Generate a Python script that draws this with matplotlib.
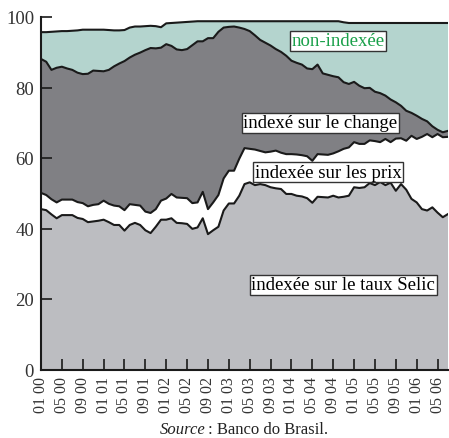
import numpy as np
import matplotlib
matplotlib.use("Agg")
import matplotlib.pyplot as plt

plt.rcParams['font.family'] = ['Liberation Serif', 'DejaVu Serif']

# Months from Jan 2000 to Jul 2006
months = list(range(79))
tick_pos = list(range(0, 77, 4))
tick_labels = ["01 00", "05 00", "09 00", "01 01", "05 01", "09 01", "01 02", "05 02",
               "09 02", "01 03", "05 03", "09 03", "01 04", "05 04", "09 04", "01 05",
               "05 05", "09 05", "01 06", "05 06"]

# Shares of public debt (%)
selic = [45.5, 45.2, 44.0, 42.9, 43.8, 43.8, 43.8, 43.0, 42.7, 41.8,
         42.0, 42.2, 42.5, 41.8, 41.0, 41.0, 39.4, 41.0, 41.6, 41.0,
         39.5, 38.7, 40.5, 42.5, 42.5, 42.9, 41.6, 41.5, 41.3, 39.9,
         40.3, 42.9, 38.4, 39.5, 40.5, 45.1, 47.1, 47.1, 49.3, 52.6,
         53.1, 52.3, 52.6, 52.3, 51.7, 51.4, 51.2, 49.8, 49.8, 49.3,
         49.1, 48.6, 47.3, 49.0, 48.9, 48.8, 49.3, 48.8, 49.0, 49.3,
         51.7, 51.5, 51.7, 52.9, 52.3, 53.2, 52.3, 53.0, 50.7, 52.6,
         51.0, 48.4, 47.4, 45.5, 45.1, 46.0, 44.5, 43.2, 44.1]
prix = [4.6, 4.3, 4.3, 4.5, 4.4, 4.4, 4.4, 4.5, 4.5, 4.5,
        4.7, 4.7, 5.4, 5.2, 5.5, 5.3, 5.8, 5.9, 5.1, 5.5,
        5.3, 5.7, 5.0, 5.4, 6.0, 6.9, 7.2, 7.2, 7.3, 7.3,
        7.1, 7.5, 7.1, 7.9, 9.0, 9.1, 9.3, 9.3, 10.5, 10.2,
        9.5, 10.1, 9.4, 9.3, 10.1, 10.7, 10.3, 11.3, 11.3, 11.7,
        11.7, 11.9, 11.9, 12.1, 12.1, 12.1, 12.0, 13.1, 13.6, 13.7,
        12.8, 12.5, 12.3, 12.1, 12.5, 11.3, 13.1, 11.5, 14.8, 13.0,
        13.9, 17.9, 18.0, 20.5, 21.7, 19.9, 22.3, 22.7, 21.9]
change = [38.0, 37.8, 36.7, 38.2, 37.7, 37.2, 36.8, 36.7, 36.6, 37.6,
          38.1, 37.8, 36.7, 38.0, 39.5, 40.5, 42.3, 41.6, 42.6, 43.4,
          45.8, 46.8, 45.6, 43.4, 43.8, 42.0, 42.0, 41.9, 42.3, 44.8,
          45.7, 42.7, 48.5, 46.6, 46.3, 42.8, 40.8, 40.9, 37.2, 33.8,
          33.4, 32.4, 31.5, 31.1, 30.1, 28.8, 28.6, 27.9, 26.5, 26.0,
          25.7, 24.9, 26.0, 25.4, 23.0, 22.7, 21.9, 21.0, 18.9, 18.0,
          17.1, 16.5, 15.8, 14.9, 14.0, 13.9, 12.3, 12.1, 10.3, 9.2,
          8.5, 6.5, 6.6, 5.1, 3.6, 3.1, 1.2, 1.4, 1.7]
non_indexee = [7.6, 8.4, 10.8, 10.3, 10.1, 10.6, 11.1, 12.0, 12.6, 12.5,
               11.6, 11.7, 11.8, 11.3, 10.2, 9.4, 8.8, 8.5, 8.0, 7.4,
               6.8, 6.3, 6.3, 5.8, 5.9, 6.5, 7.6, 7.9, 7.7, 6.7,
               5.7, 5.7, 4.8, 4.8, 3.0, 1.8, 1.6, 1.5, 1.8, 2.2,
               2.8, 4.0, 5.3, 6.1, 6.9, 7.9, 8.7, 9.8, 11.2, 11.8,
               12.3, 13.4, 13.6, 12.3, 14.8, 15.2, 15.6, 15.9, 17.0, 17.3,
               16.7, 17.8, 18.5, 18.4, 19.5, 19.9, 20.6, 21.7, 22.5, 23.5,
               24.9, 25.5, 26.3, 27.2, 27.9, 29.3, 30.3, 31.0, 30.6]

series = [selic, prix, change, non_indexee]
colors = ["#bcbdc1", "#ffffff", "#808084", "#b4d4ce"]
labels = ["indexée sur le taux Selic", "indexée sur les prix",
          "indexé sur le change", "non-indexée"]
label_xy = [(57.9, 24.0), (55.0, 55.9), (53.5, 70.0), (57.0, 93.2)]
label_colors = ["black", "black", "black", "#1aa04a"]

fig = plt.figure(figsize=(4.49, 4.39), dpi=100)
ax = fig.add_axes([41 / 449, 68.5 / 439, 407 / 449, 352.5 / 439])

x = np.array(months)
base = np.zeros(len(x))
for vals, col in zip(series, colors):
    top = base + np.array(vals)
    ax.fill_between(x, base, top, facecolor=col, edgecolor="none", zorder=1)
    base = top
base = np.zeros(len(x))
for vals in series:
    base = base + np.array(vals)
    ax.plot(x, base, color="#1a1a1a", lw=1.5, zorder=2)

for lab, (lx, ly), lc in zip(labels, label_xy, label_colors):
    ax.text(lx, ly, lab, ha="center", va="center", fontsize=13.5, color=lc, zorder=5,
            bbox=dict(boxstyle="square,pad=0.08", facecolor="white",
                      edgecolor="#333333", linewidth=1.0))

ax.set_xlim(0, 78)
ax.set_ylim(0, 100)
ax.set_xticks(tick_pos)
ax.set_xticklabels(tick_labels, rotation=90, fontsize=11.5, color="#333333")
ax.set_yticks([0, 20, 40, 60, 80, 100])
ax.set_yticklabels(["0", "20", "40", "60", "80", "100"], fontsize=13.5, color="#333333")
ax.tick_params(axis="both", direction="in", length=8, width=1.2, color="#1a1a1a", pad=5)
ax.tick_params(axis="x", pad=5)
for s in ["top", "right"]:
    ax.spines[s].set_visible(False)
for s in ["left", "bottom"]:
    ax.spines[s].set_linewidth(1.5)
    ax.spines[s].set_color("#1a1a1a")
    ax.spines[s].set_zorder(6)

fig.text(206 / 449, 9 / 439, "Source", style="italic", ha="right", va="center",
         fontsize=12, color="#222222")
fig.text(208 / 449, 9 / 439, ": Banco do Brasil.", ha="left", va="center",
         fontsize=12, color="#222222")

fig.savefig("out.png", dpi=100)
